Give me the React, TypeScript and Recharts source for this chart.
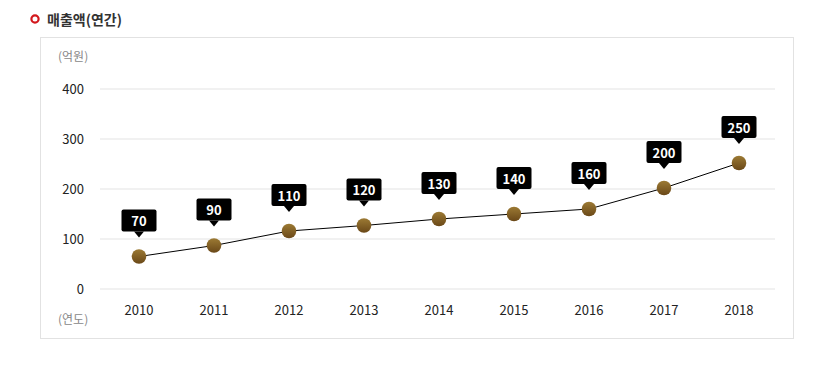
import { LineChart, Line, XAxis, YAxis, CartesianGrid, LabelList } from "recharts";

const years = ["2010", "2011", "2012", "2013", "2014", "2015", "2016", "2017", "2018"];
// dot positions as drawn in the reference (억원)
const plotted = [65, 87, 116, 127, 140, 150, 160, 202, 252];
// numbers written in the callouts
const callouts = [70, 90, 110, 120, 130, 140, 160, 200, 250];
const yTicks = [0, 100, 200, 300, 400];

const data = years.map((y, i) => ({ year: y, value: plotted[i], label: callouts[i] }));

const FONT = "'Noto Sans CJK KR', 'Noto Sans', sans-serif";

function Dot(props: any) {
  const { cx, cy, index } = props;
  return <circle key={index} cx={cx} cy={cy} r={7.3} fill="url(#dotFill)" />;
}

function Callout(props: any) {
  const { x, y, index } = props;
  const text = callouts[index];
  const w = 35;
  const h = 22;
  const tipY = y - 19;
  const top = tipY - 6 - h;
  return (
    <g>
      <rect x={x - w / 2} y={top} width={w} height={h} rx={2} fill="#000" />
      <path d={`M${x - 5},${top + h} L${x + 5},${top + h} L${x},${tipY} Z`} fill="#000" />
      <text
        x={x}
        y={top + h / 2}
        textAnchor="middle"
        dominantBaseline="central"
        fill="#fff"
        fontSize={13}
        fontWeight={700}
        fontFamily={FONT}
      >
        {text}
      </text>
    </g>
  );
}

export default function App() {
  return (
    <div style={{ position: "absolute", left: 0, top: 0, width: 835, height: 368, background: "#fff", fontFamily: FONT }}>
      <svg style={{ position: "absolute", left: 29, top: 13 }} width={12} height={12}>
        <circle cx={6} cy={6} r={3.6} fill="none" stroke="#d3171c" strokeWidth={2.2} />
      </svg>
      <div style={{ position: "absolute", left: 47, top: 9, fontSize: 14, fontWeight: 700, color: "#333", lineHeight: "20px" }}>
        매출액(연간)
      </div>
      <div style={{ position: "absolute", left: 40, top: 37, width: 754, height: 302, border: "1px solid #e2e2e2", boxSizing: "border-box" }} />
      <div style={{ position: "absolute", left: 58, top: 48, fontSize: 12, color: "#888", lineHeight: "16px" }}>(억원)</div>
      <div style={{ position: "absolute", left: 58, top: 311, fontSize: 12, color: "#888", lineHeight: "16px" }}>(연도)</div>
      <div style={{ position: "absolute", left: 0, top: 0 }}>
        <LineChart width={835} height={368} data={data} margin={{ top: 89, right: 60, bottom: 49, left: 40 }}>
          <defs>
            <linearGradient id="dotFill" x1="0" y1="0" x2="0" y2="1">
              <stop offset="0%" stopColor="#9c7a34" />
              <stop offset="100%" stopColor="#6a4818" />
            </linearGradient>
          </defs>
          <CartesianGrid horizontal vertical={false} stroke="#e3e3e3" />
          <XAxis
            dataKey="year"
            height={30}
            axisLine={false}
            tickLine={false}
            tickSize={0}
            tickMargin={17}
            padding={{ left: 39, right: 36 }}
            tick={{ fontSize: 13, fill: "#222", fontFamily: FONT }}
          />
          <YAxis
            domain={[0, 400]}
            ticks={yTicks}
            width={60}
            axisLine={false}
            tickLine={false}
            tickSize={0}
            tickMargin={16}
            tick={{ fontSize: 13, fill: "#222", fontFamily: FONT }}
          />
          <Line
            type="linear"
            dataKey="value"
            stroke="#000"
            strokeWidth={1}
            dot={<Dot />}
            activeDot={false}
            isAnimationActive={false}
          >
            <LabelList dataKey="label" content={<Callout />} />
          </Line>
        </LineChart>
      </div>
    </div>
  );
}
